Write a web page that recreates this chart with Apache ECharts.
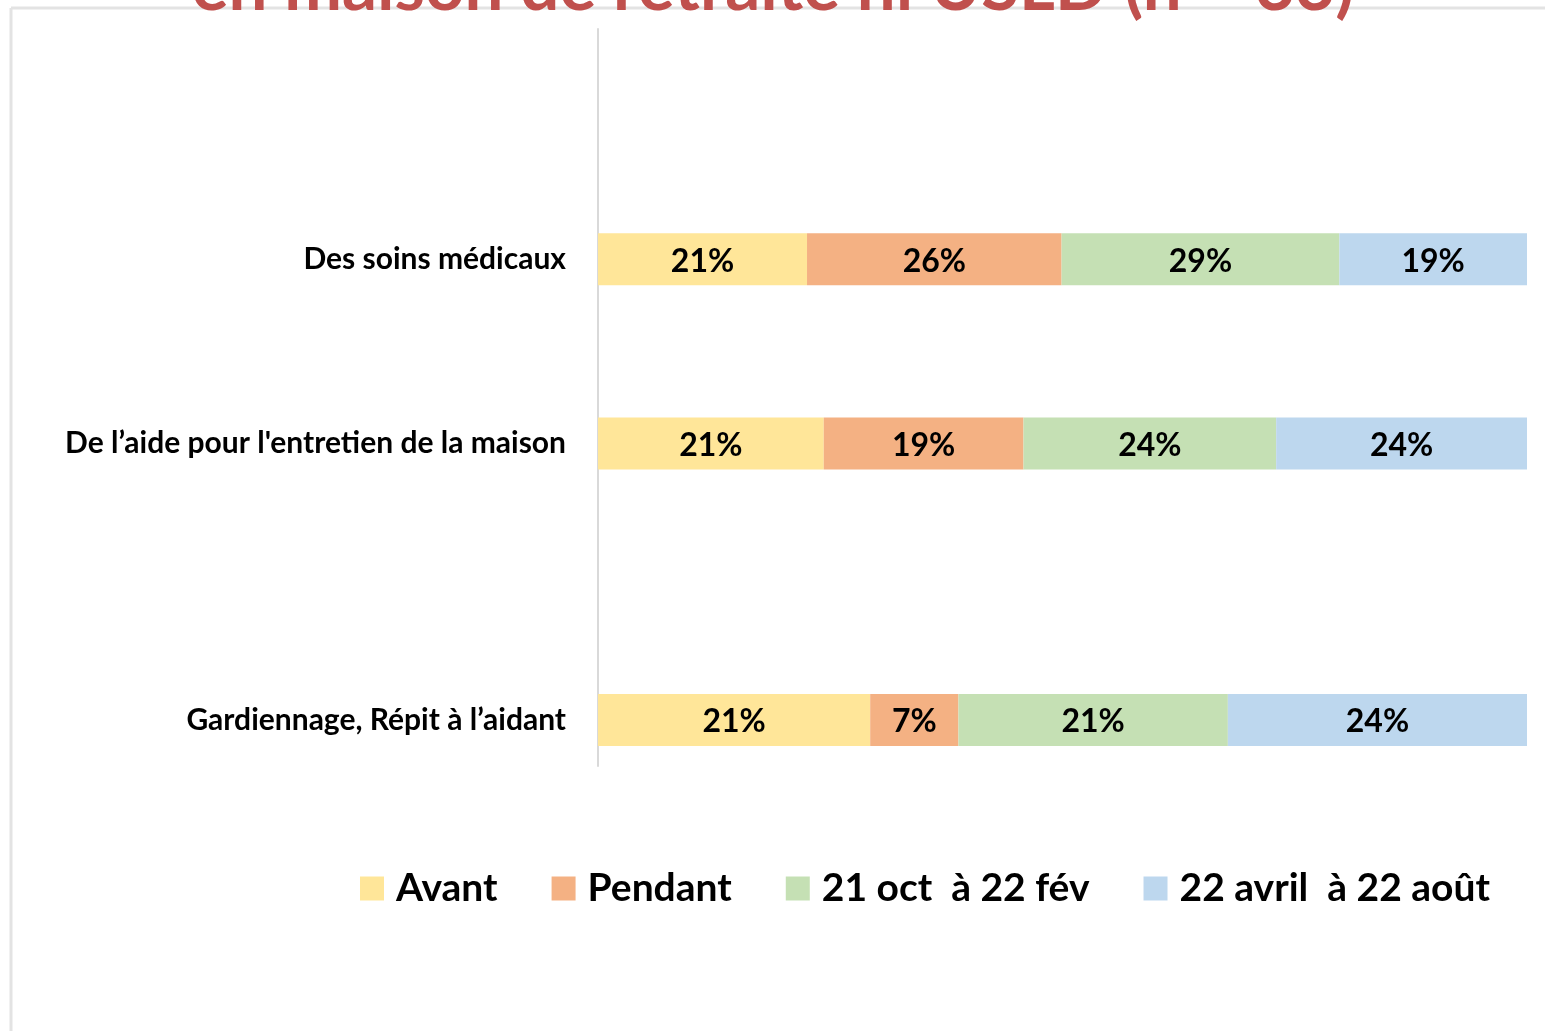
<!DOCTYPE html>
<html>
<head>
<meta charset="utf-8">
<script src="https://cdn.jsdelivr.net/npm/echarts@6/dist/echarts.min.js"></script>
<style>
  html, body { margin: 0; padding: 0; background: #fff; }
  #chart { width: 1545px; height: 1031px; }
</style>
</head>
<body>
<div id="chart"></div>
<script>
// rows, top to bottom
const categories = ['Des soins médicaux', 'De l’aide pour l\'entretien de la maison', 'Gardiennage, Répit à l’aidant'];
const seriesNames = ['Avant', 'Pendant', '21 oct  à 22 fév', '22 avril  à 22 août'];

// percentages printed on the bars
const avantPct = [21, 21, 21];
const pendantPct = [26, 19, 7];
const octFevPct = [29, 24, 21];
const avrAoutPct = [19, 24, 24];

// segment lengths
const avantShare = [22.5, 24.3, 29.3];
const pendantShare = [27.4, 21.5, 9.5];
const octFevShare = [29.9, 27.2, 29.0];
const avrAoutShare = [20.2, 27.0, 32.2];

const colors = ['#FFE699', '#F4B183', '#C5E0B4', '#BDD7EE'];

// rows sit on an 8-slot axis (bottom = 0), with empty slots between them
const slotCount = 8;
const slotOf = [5, 3, 0];

let axisData = [];
for (let i = 0; i < slotCount; i++) axisData.push('');
categories.forEach((c, i) => { axisData[slotOf[i]] = c; });

function toSlots(arr) {
    let out = [];
    for (let i = 0; i < slotCount; i++) out.push('-');
    arr.forEach((v, i) => { out[slotOf[i]] = v; });
    return out;
}

const shares = [avantShare, pendantShare, octFevShare, avrAoutShare];
const printed = [avantPct, pendantPct, octFevPct, avrAoutPct];

const FONT = 'Lato';

let chart = echarts.init(document.getElementById('chart'));

let series = seriesNames.map((name, s) => {
    const pctSlots = toSlots(printed[s]);
    return {
        name: name,
        type: 'bar',
        stack: 'total',
        barWidth: 52,
        itemStyle: { color: colors[s] },
        label: {
            show: true,
            position: 'inside',
            offset: [0, 2],
            color: '#000',
            fontFamily: FONT,
            fontWeight: 'bold',
            fontSize: 32,
            formatter: function (p) {
                return pctSlots[p.dataIndex] + '%';
            }
        },
        emphasis: { disabled: true },
        data: toSlots(shares[s])
    };
});

chart.setOption({
    backgroundColor: '#fff',
    animation: false,
    grid: { left: 598, right: 18, top: 29, bottom: 265 },
    xAxis: { type: 'value', min: 0, max: 100, show: false },
    yAxis: {
        type: 'category',
        data: axisData,
        axisLine: { show: true, lineStyle: { color: '#d9d9d9', width: 2 } },
        axisTick: { show: false },
        axisLabel: {
            margin: 32,
            color: '#000',
            fontFamily: FONT,
            fontWeight: 'bold',
            fontSize: 30
        }
    },
    legend: {
        left: 360,
        top: 869,
        padding: 0,
        itemWidth: 24,
        itemHeight: 24,
        itemGap: 54,
        icon: 'rect',
        textStyle: {
            color: '#000',
            fontFamily: FONT,
            fontWeight: 'bold',
            fontSize: 39,
            padding: [0, 0, 0, 7]
        },
        data: seriesNames
    },
    graphic: [
        { type: 'line', shape: { x1: 11, y1: 8, x2: 1545, y2: 8 }, style: { stroke: '#e3e3e3', lineWidth: 3 } },
        { type: 'line', shape: { x1: 11, y1: 8, x2: 11, y2: 1031 }, style: { stroke: '#e3e3e3', lineWidth: 3 } },
        {
            type: 'text',
            x: 773,
            y: -12,
            style: {
                text: 'en maison de retraite ni USLD (n = 33)',
                align: 'center',
                verticalAlign: 'middle',
                fill: '#C0504D',
                font: 'bold 69px Lato'
            }
        }
    ],
    series: series
});
</script>
</body>
</html>
